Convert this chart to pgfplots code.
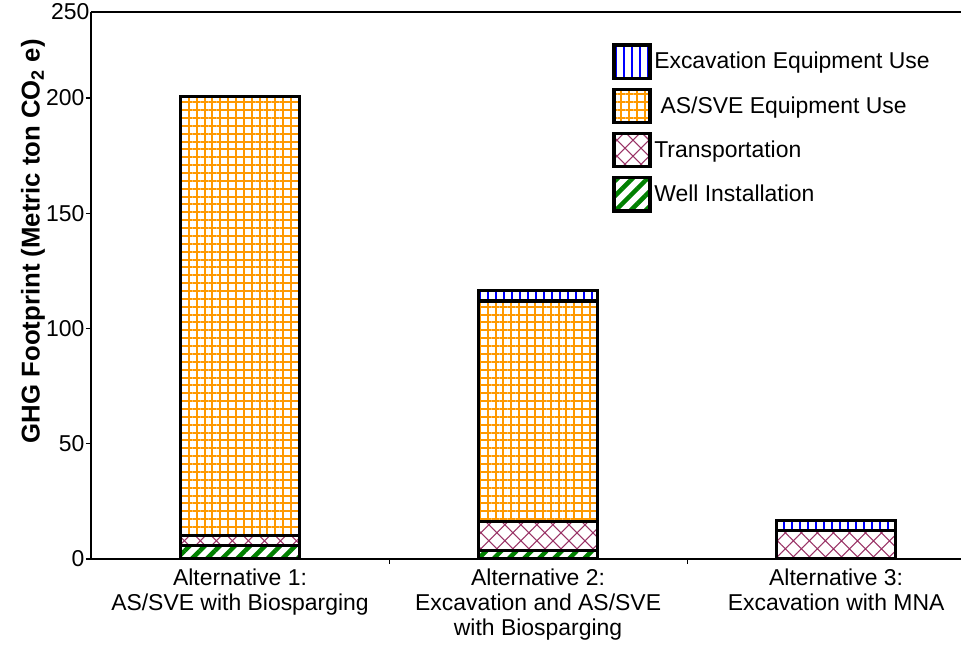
\documentclass[border=0pt]{standalone}
\usepackage{pgfplots}
\pgfplotsset{compat=1.18}
\usepackage{fontspec}
\setmainfont{Liberation Sans}
\usetikzlibrary{patterns.meta}
\definecolor{asorange}{HTML}{FF9900}
\definecolor{trpurple}{HTML}{993366}
\definecolor{wgreen}{HTML}{008000}
\definecolor{exblue}{HTML}{0000FF}
\begin{document}
\begin{tikzpicture}
\begin{axis}[
  at={(0,0)}, anchor=south west,
  scale only axis, width=652.5pt, height=410.25pt,
  xmin=-0.5, xmax=2.419, ymin=0, ymax=237.3,
  axis x line*=box, axis y line*=left,
  axis line style={line width=1.8pt},
  ybar stacked, bar width=0.4,
  /pgf/number format/assume math mode=true,
  tick pos=left, tick align=outside,
  xtick={0,1,2},
  xticklabels={{Alternative 1:\\AS/SVE with Biosparging},{Alternative 2:\\Excavation and AS/SVE\\with Biosparging},{Alternative 3:\\Excavation with MNA}},
  xticklabel style={align=center, font=\fontsize{17.2}{19}\selectfont},
  major x tick style={draw=none},
  minor xtick={0.5,1.5},
  minor tick length=3.75pt,
  minor x tick style={line width=0.8pt, black},
  ytick={0,50,100,150,200},
  extra y ticks={237.3}, extra y tick labels={250},
  extra y tick style={major tick length=0pt},
  major tick length=3.75pt,
  y tick style={line width=0.8pt, black},
  yticklabel style={font=\fontsize{17.2}{19}\selectfont, inner sep=1pt},
  ylabel={\textbf{GHG Footprint (Metric ton CO\textsubscript{2} e)}},
  ylabel style={at={(axis description cs:-0.0667,0.581)}, anchor=center, font=\fontsize{19.3}{21}\selectfont},
  legend style={draw=none, fill=none, at={(axis description cs:0.599,0.943)}, anchor=north west, inner sep=0pt, row sep=6pt, font=\fontsize{17.2}{19}\selectfont},
  legend cell align=left,
  reverse legend,
  legend image code/.code={\draw[#1] (0pt,-12.4pt) rectangle (27pt,12.4pt);},
]
\addplot[draw=black, line width=2.4pt, pattern={Lines[angle=45,distance=8pt,line width=3.4pt]}, pattern color=wgreen]
  coordinates {(0,5.8) (1,3.6) (2,0)};
\addlegendentry{Well Installation}
\addplot[draw=black, line width=2.4pt, pattern={Hatch[angle=45,distance=8.5pt,line width=0.8pt]}, pattern color=trpurple]
  coordinates {(0,4.3) (1,12.8) (2,12.4)};
\addlegendentry{Transportation}
\addplot[draw=black, line width=2.4pt, pattern={Hatch[angle=0,distance=5.9pt,line width=1.5pt]}, pattern color=asorange]
  coordinates {(0,190.5) (1,95.5) (2,0)};
\addlegendentry{\ AS/SVE Equipment Use}
\addplot[draw=black, line width=2.4pt, pattern={Lines[angle=90,distance=6pt,line width=1.2pt]}, pattern color=exblue]
  coordinates {(0,0) (1,4.5) (2,4.3)};
\addlegendentry{Excavation Equipment Use}
\end{axis}
\pgfresetboundingbox
\path[use as bounding box] (-68.25pt,-64.5pt) rectangle (652.5pt,419.25pt);
\end{tikzpicture}
\end{document}
